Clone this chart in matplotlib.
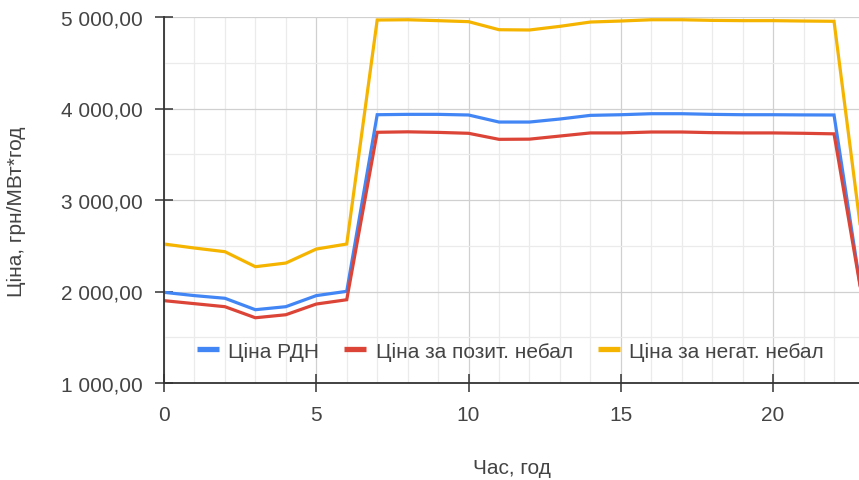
import matplotlib
matplotlib.use("Agg")
import matplotlib.pyplot as plt
from matplotlib.ticker import MultipleLocator, FuncFormatter

hours = list(range(24))
price_rdn = [1991, 1955, 1926, 1801, 1834, 1955, 2002, 3932, 3936, 3936, 3929, 3852,
             3852, 3885, 3925, 3932, 3943, 3943, 3936, 3932, 3932, 3930, 3929, 1760]
price_pos = [1900, 1867, 1834, 1713, 1746, 1863, 1910, 3740, 3745, 3739, 3729, 3663,
             3665, 3699, 3733, 3733, 3743, 3743, 3736, 3733, 3733, 3729, 3723, 1780]
price_neg = [2519, 2475, 2435, 2271, 2311, 2464, 2519, 4967, 4970, 4960, 4949, 4861,
             4858, 4898, 4945, 4956, 4970, 4970, 4963, 4960, 4960, 4956, 4953, 2360]
series_names = ["Ціна РДН", "Ціна за позит. небал", "Ціна за негат. небал"]
series_colors = ["#4285F4", "#DB4437", "#F4B400"]
x_label = "Час, год"
y_label = "Ціна, грн/МВт*год"

plt.rcParams['font.family'] = ['Liberation Sans', 'DejaVu Sans']
FS = 15
TXT = '#444444'

fig = plt.figure(figsize=(8.59, 4.81), dpi=100)
ax = fig.add_axes([164/859, 1 - 384/481, 1 - 164/859, 366/481])

for vals, name, col in zip([price_rdn, price_pos, price_neg], series_names, series_colors):
    ax.plot(hours, vals, color=col, lw=2.3, label=name, solid_joinstyle='miter', zorder=3)

ax.set_xlim(0, 22.82)
ax.set_ylim(1000, 5000)
ax.xaxis.set_major_locator(MultipleLocator(5))
ax.xaxis.set_minor_locator(MultipleLocator(1))
ax.yaxis.set_major_locator(MultipleLocator(1000))
ax.yaxis.set_minor_locator(MultipleLocator(500))

def fmt(v, pos):
    return f"{v:,.2f}".replace(",", " ").replace(".", ",")
ax.yaxis.set_major_formatter(FuncFormatter(fmt))

ax.grid(which='major', color='#d0d0d0', lw=0.9, zorder=0)
ax.grid(which='minor', color='#ebebeb', lw=0.9, zorder=0)
ax.set_axisbelow(True)

for s in ['top', 'right']:
    ax.spines[s].set_visible(False)
for s in ['left', 'bottom']:
    ax.spines[s].set_color('#333333')
    ax.spines[s].set_linewidth(1.3)
    ax.spines[s].set_zorder(4)

ax.tick_params(which='major', direction='inout', length=13, width=1.1, color='#333333',
               labelsize=FS, labelcolor=TXT)
ax.tick_params(axis='y', which='major', pad=9)
ax.tick_params(axis='x', which='major', pad=9)
ax.tick_params(which='minor', length=0)

ax.set_xlabel(x_label, fontsize=FS, color=TXT)
ax.set_ylabel(y_label, fontsize=FS, color=TXT)
ax.xaxis.set_label_coords(0.5, -0.205)
ax.yaxis.set_label_coords(-0.198, 0.47)

leg = ax.legend(loc='center left', bbox_to_anchor=(0.0475, 0.087), ncol=3, frameon=False,
                fontsize=FS, handlelength=1.05, handletextpad=0.45, columnspacing=1.2,
                borderaxespad=0, borderpad=0)
for h in leg.get_lines():
    h.set_linewidth(3.8)
    h.set_solid_capstyle('butt')
for t in leg.get_texts():
    t.set_color(TXT)

fig.savefig("out.png", dpi=100)
